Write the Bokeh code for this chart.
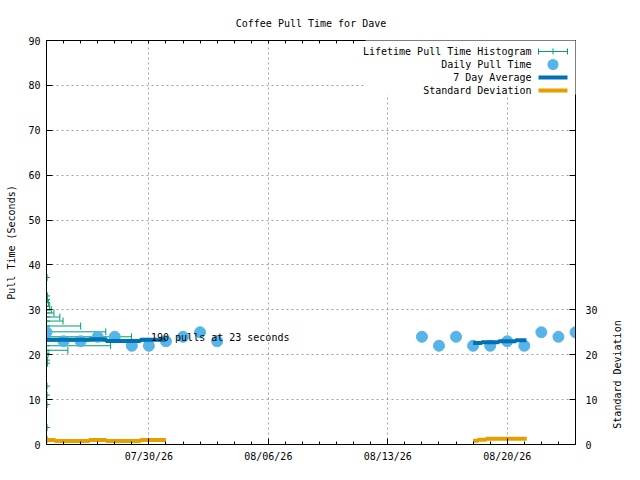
import math
import pandas as pd
from bokeh.plotting import figure
from bokeh.layouts import row
from bokeh.models import (Range1d, FixedTicker, DatetimeTickFormatter, DatetimeAxis,
                          LinearAxis, Label, BoxAnnotation)
from bokeh.embed import file_html
from bokeh.resources import INLINE

# ---------------- data ----------------
chart_title = "Coffee Pull Time for Dave"
y_label = "Pull Time (Seconds)"
y2_label = "Standard Deviation"

x_start = "2026-07-24"
x_end = "2026-08-24"
x_major = ["2026-07-30", "2026-08-06", "2026-08-13", "2026-08-20"]
y_ticks = [0, 10, 20, 30, 40, 50, 60, 70, 80, 90]
y2_labeled = [0, 10, 20, 30]

daily_dates = ["2026-07-24", "2026-07-25", "2026-07-26", "2026-07-27", "2026-07-28",
               "2026-07-29", "2026-07-30", "2026-07-31", "2026-08-01", "2026-08-02",
               "2026-08-03",
               "2026-08-15", "2026-08-16", "2026-08-17", "2026-08-18", "2026-08-19",
               "2026-08-20", "2026-08-21", "2026-08-22", "2026-08-23", "2026-08-24"]
daily_pull = [25, 23, 23, 24, 24, 22, 22, 23, 24, 25, 23,
              24, 22, 24, 22, 22, 23, 22, 25, 24, 25]

avg1_times = ["2026-07-24 00:00", "2026-07-26 12:00", "2026-07-27 12:00",
              "2026-07-29 12:00", "2026-07-31 00:00"]
avg1_values = [23.35, 23.45, 23.05, 23.35, 23.35]
avg2_times = ["2026-08-18 00:00", "2026-08-18 12:00", "2026-08-19 12:00",
              "2026-08-20 12:00", "2026-08-21 03:00"]
avg2_values = [22.6, 22.8, 23.0, 23.25, 23.25]

std1_times = ["2026-07-24 00:00", "2026-07-24 12:00", "2026-07-26 12:00",
              "2026-07-27 12:00", "2026-07-29 12:00", "2026-07-31 00:00"]
std1_values = [1.0, 0.8, 1.0, 0.8, 1.0, 1.0]
std2_times = ["2026-08-18 00:00", "2026-08-18 07:00", "2026-08-18 18:30",
              "2026-08-21 03:30"]
std2_values = [0.85, 1.05, 1.3, 1.3]

hist_origin = "2026-07-24"
hist_seconds = [37.2, 33.1, 32.3, 31.6, 30.8, 30.0, 29.3, 28.4, 27.5, 26.4, 25.1,
                24.0, 23.0, 22.0, 21.0, 20.2, 18.8, 18.1, 13.0, 11.0, 8.9, 3.8, 1.1]
hist_counts = [1, 2, 2, 4, 6, 9, 14, 25, 31, 64, 111,
               159, 190, 120, 40, 3, 2, 2, 1, 1, 1, 1, 1]
hist_days_per_pull = 0.0313

# ---------------- styles ----------------
FONT = "DejaVu Sans Mono"
FS = "10px"
GREEN = "#009e73"
SKY = "#56b4e9"
BLUE = "#0072b2"
ORANGE = "#e69f00"
DAY_MS = 86400000.0
MAIN_W, SIDE_W, H = 600, 24, 464
TOP, BOTTOM = 40, 18
FRAME_H = H - TOP - BOTTOM


def ms(s):
    return pd.Timestamp(s).value / 1e6


p = figure(width=MAIN_W, height=H,
           x_range=Range1d(ms(x_start), ms(x_end)), y_range=Range1d(0, 90),
           x_axis_type="datetime", output_backend="svg", toolbar_location=None,
           title=chart_title,
           min_border_left=46, min_border_right=22, min_border_top=TOP,
           min_border_bottom=BOTTOM)
p.extra_y_ranges = {"y2": Range1d(0, 90)}
p.outline_line_color = None
p.background_fill_color = "white"
p.border_fill_color = "white"

p.title.text_font = FONT
p.title.text_font_size = FS
p.title.text_font_style = "normal"
p.title.align = "center"
p.title.text_color = "black"
p.title.standoff = 24

# tickers
x_minor = [ms(x_start) + i * DAY_MS for i in range(0, 32)]
xticker = FixedTicker(ticks=[ms(d) for d in x_major], minor_ticks=x_minor)
yticker = FixedTicker(ticks=y_ticks)
fmt = DatetimeTickFormatter(days="%m/%d/%y", months="%m/%d/%y", hours="%m/%d/%y",
                            years="%m/%d/%y")


def style_axis(ax):
    ax.axis_line_color = "black"
    ax.major_tick_line_color = "black"
    ax.minor_tick_line_color = "black"
    ax.major_tick_in = 6
    ax.major_tick_out = 0
    ax.minor_tick_in = 3
    ax.minor_tick_out = 0
    ax.major_label_text_font = FONT
    ax.major_label_text_font_size = FS
    ax.major_label_text_color = "black"
    ax.axis_label_text_font = FONT
    ax.axis_label_text_font_size = FS
    ax.axis_label_text_font_style = "normal"
    ax.axis_label_text_color = "black"


xa = p.xaxis[0]
xa.ticker = xticker
xa.formatter = fmt
style_axis(xa)
xa.major_label_standoff = 6

ya = p.yaxis[0]
ya.ticker = yticker
style_axis(ya)
ya.major_label_standoff = 6
ya.axis_label = y_label
ya.axis_label_standoff = 8

# mirrored x ticks along the top border (no labels)
top = DatetimeAxis(ticker=FixedTicker(ticks=[], minor_ticks=x_minor), formatter=fmt)
style_axis(top)
top.major_label_standoff = 0
p.add_layout(top, "above")

# y2 axis: labels 0..30, mirrored left ticks above as unlabeled marks
right = LinearAxis(y_range_name="y2",
                   ticker=FixedTicker(ticks=y2_labeled,
                                      minor_ticks=[t for t in y_ticks if t not in y2_labeled]))
style_axis(right)
right.minor_tick_in = 6
right.major_label_standoff = 10
p.add_layout(right, "right")

p.xgrid.ticker = xticker
p.ygrid.ticker = yticker
for g in (p.xgrid, p.ygrid):
    g.grid_line_color = "#a0a0a0"
    g.grid_line_dash = "2 3"
    g.grid_line_width = 1

# ---------------- marks ----------------
x0 = ms(hist_origin)
hist_x0 = [x0] * len(hist_seconds)
hist_x1 = [x0 + c * hist_days_per_pull * DAY_MS for c in hist_counts]
p.segment(x0=hist_x0, y0=hist_seconds, x1=hist_x1, y1=hist_seconds,
          line_color=GREEN, line_width=1)
p.scatter(hist_x1, hist_seconds, marker="dash", angle=math.pi / 2, size=7,
          line_color=GREEN, line_width=1)
p.scatter(hist_x0, hist_seconds, marker="cross", size=7, line_color=GREEN, line_width=1)

p.scatter([ms(d) for d in daily_dates], daily_pull, size=11,
          fill_color=SKY, line_color=SKY)

p.step([ms(t) for t in avg1_times], avg1_values, mode="after", line_color=BLUE, line_width=4)
p.step([ms(t) for t in avg2_times], avg2_values, mode="after", line_color=BLUE, line_width=4)
p.step([ms(t) for t in std1_times], std1_values, mode="after", line_color=ORANGE,
       line_width=4, y_range_name="y2")
p.step([ms(t) for t in std2_times], std2_values, mode="after", line_color=ORANGE,
       line_width=4, y_range_name="y2")

imax = hist_counts.index(max(hist_counts))
p.add_layout(Label(x=hist_x1[imax], y=hist_seconds[imax], x_offset=3, y_offset=4,
                   text=f"{hist_counts[imax]} pulls at {int(hist_seconds[imax])} seconds",
                   text_font=FONT, text_font_size=FS, text_baseline="middle",
                   text_color="black"))

# ---------------- legend (gnuplot style, frame screen units) ----------------
def box(l, r, b, t, color, radius=0):
    return BoxAnnotation(left=l, right=r, bottom=b, top=t,
                         left_units="screen", right_units="screen",
                         bottom_units="screen", top_units="screen",
                         fill_color=color, fill_alpha=1.0, line_color=None,
                         border_radius=radius)


p.add_layout(box(319, 532, FRAME_H - 56, FRAME_H, "white"))
names = ["Lifetime Pull Time Histogram", "Daily Pull Time", "7 Day Average",
         "Standard Deviation"]
rows = [FRAME_H - 13, FRAME_H - 26, FRAME_H - 39, FRAME_H - 52]
for n, yv in zip(names, rows):
    p.add_layout(Label(x=485, y=yv, x_units="screen", y_units="screen", text=n,
                       text_align="right", text_baseline="middle",
                       text_font=FONT, text_font_size=FS, text_color="black"))
sx0, sx1 = 492, 521
cxm = (sx0 + sx1) / 2
p.add_layout(box(sx0, sx1, rows[0] - 0.5, rows[0] + 0.5, GREEN))
for cx in (sx0, cxm, sx1):
    p.add_layout(box(cx - 0.5, cx + 0.5, rows[0] - 3, rows[0] + 3, GREEN))
p.add_layout(box(cxm - 5.5, cxm + 5.5, rows[1] - 5.5, rows[1] + 5.5, SKY, radius=6))
p.add_layout(box(sx0, sx1, rows[2] - 2, rows[2] + 2, BLUE))
p.add_layout(box(sx0, sx1, rows[3] - 2, rows[3] + 2, ORANGE))

# ---------------- y2 axis title strip (placed beside the y2 tick labels) ----------------
side = figure(width=SIDE_W, height=H, x_range=Range1d(0, 1), y_range=Range1d(0, 1),
              output_backend="svg", toolbar_location=None,
              x_axis_location=None, y_axis_location=None, min_border=0)
side.outline_line_color = None
side.xgrid.visible = False
side.ygrid.visible = False
side.add_layout(Label(x=17, y=70, x_units="screen", y_units="screen", text=y2_label,
                      angle=math.pi / 2, text_align="center", text_baseline="middle",
                      text_font=FONT, text_font_size=FS, text_color="black"))

layout = row(p, side, spacing=0)
open("out.html", "w").write(file_html(layout, INLINE))
